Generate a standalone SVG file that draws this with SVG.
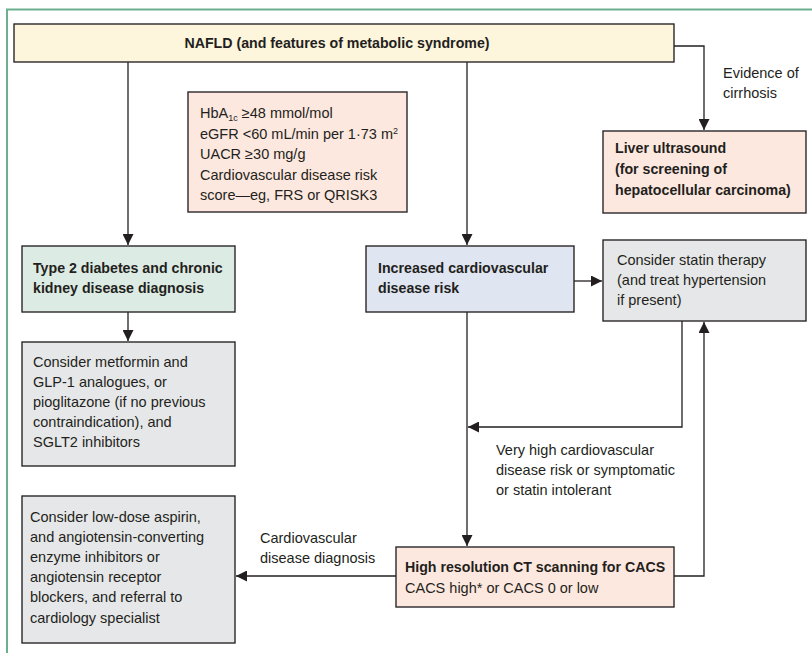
<svg xmlns="http://www.w3.org/2000/svg" width="812" height="653" viewBox="0 0 812 653">
<style>
.box{stroke:#2b2728;stroke-width:1.4}
.cream{fill:#fdf5dc}
.peach{fill:#fde8df}
.green{fill:#dcebe3}
.blue{fill:#dfe5f1}
.gray{fill:#e6e7e8}
text{font-family:"Liberation Sans",Arial,sans-serif;font-size:14.5px;fill:#231f20}
.b{font-weight:bold;font-size:14.2px}
.con{fill:none;stroke:#231f20;stroke-width:1.3}
</style>
<defs>
<marker id="ah" markerUnits="userSpaceOnUse" markerWidth="11" markerHeight="11" refX="10" refY="5" orient="auto" viewBox="0 0 10 10">
<path d="M0,0 L10,5 L0,10 z" fill="#231f20"/>
</marker>
</defs>
<rect x="0" y="0" width="812" height="653" fill="#fff"/>
<path d="M7,653 V9.5 H812" fill="none" stroke="#6db08f" stroke-width="2"/>

<g id="connectors">
<path class="con" d="M128,62 V245" marker-end="url(#ah)"/>
<path class="con" d="M467,62 V245" marker-end="url(#ah)"/>
<path class="con" d="M674,46 H704 V130" marker-end="url(#ah)"/>
<path class="con" d="M128,312 V341" marker-end="url(#ah)"/>
<path class="con" d="M574,281 H602" marker-end="url(#ah)"/>
<path class="con" d="M682,321 V427 H468" marker-end="url(#ah)"/>
<path class="con" d="M467,312 V546" marker-end="url(#ah)"/>
<path class="con" d="M674,576 H704 V322" marker-end="url(#ah)"/>
<path class="con" d="M396,576 H236" marker-end="url(#ah)"/>
<text x="723" y="78">Evidence of</text>
<text x="723" y="98">cirrhosis</text>
<text x="496" y="455">Very high cardiovascular</text>
<text x="496" y="475">disease risk or symptomatic</text>
<text x="496" y="495">or  statin intolerant</text>
<text x="260" y="543">Cardiovascular</text>
<text x="260" y="563">disease diagnosis</text>
</g>

<g id="nafld">
<rect class="box cream" x="14" y="24" width="660" height="38"/>
<text class="b" x="337" y="48" text-anchor="middle">NAFLD (and features of metabolic syndrome)</text>
</g>

<g id="criteria">
<rect class="box peach" x="188" y="92" width="219" height="120"/>
<text x="200" y="118">HbA<tspan font-size="9" dy="3">1c</tspan><tspan dy="-3"> ≥48 mmol/mol</tspan></text>
<text x="200" y="138.5">eGFR &lt;60 mL/min per 1·73 m<tspan font-size="9" dy="-5">2</tspan></text>
<text x="200" y="159">UACR ≥30 mg/g</text>
<text x="200" y="179.5">Cardiovascular disease risk</text>
<text x="200" y="200">score—eg, FRS or QRISK3</text>
</g>

<g id="liver">
<rect class="box peach" x="603" y="131" width="203" height="82"/>
<text class="b" x="615" y="153">Liver ultrasound</text>
<text class="b" x="615" y="174">(for screening of</text>
<text class="b" x="615" y="195">hepatocellular carcinoma)</text>
</g>

<g id="t2d">
<rect class="box green" x="22" y="246" width="213" height="66"/>
<text class="b" x="33" y="273">Type 2 diabetes and chronic</text>
<text class="b" x="33" y="293">kidney disease diagnosis</text>
</g>

<g id="cvrisk">
<rect class="box blue" x="366" y="246" width="208" height="66"/>
<text class="b" x="378" y="273">Increased cardiovascular</text>
<text class="b" x="378" y="293">disease risk</text>
</g>

<g id="statin">
<rect class="box gray" x="603" y="240" width="203" height="81"/>
<text x="617" y="265">Consider statin therapy</text>
<text x="617" y="285">(and treat hypertension</text>
<text x="617" y="305">if present)</text>
</g>

<g id="metformin">
<rect class="box gray" x="22" y="342" width="213" height="124"/>
<text x="33" y="367">Consider metformin and</text>
<text x="33" y="387">GLP-1 analogues, or</text>
<text x="33" y="407">pioglitazone (if no previous</text>
<text x="33" y="427">contraindication), and</text>
<text x="33" y="447">SGLT2 inhibitors</text>
</g>

<g id="aspirin">
<rect class="box gray" x="22" y="496" width="213" height="147"/>
<text x="30" y="522">Consider low-dose aspirin,</text>
<text x="30" y="542">and angiotensin-converting</text>
<text x="30" y="562">enzyme inhibitors or</text>
<text x="30" y="582">angiotensin receptor</text>
<text x="30" y="602">blockers, and referral to</text>
<text x="30" y="623">cardiology specialist</text>
</g>

<g id="ct">
<rect class="box peach" x="396" y="547" width="278" height="60"/>
<text class="b" x="405" y="572">High resolution CT scanning for CACS</text>
<text x="405" y="593">CACS high* or CACS 0 or low</text>
</g>
</svg>
